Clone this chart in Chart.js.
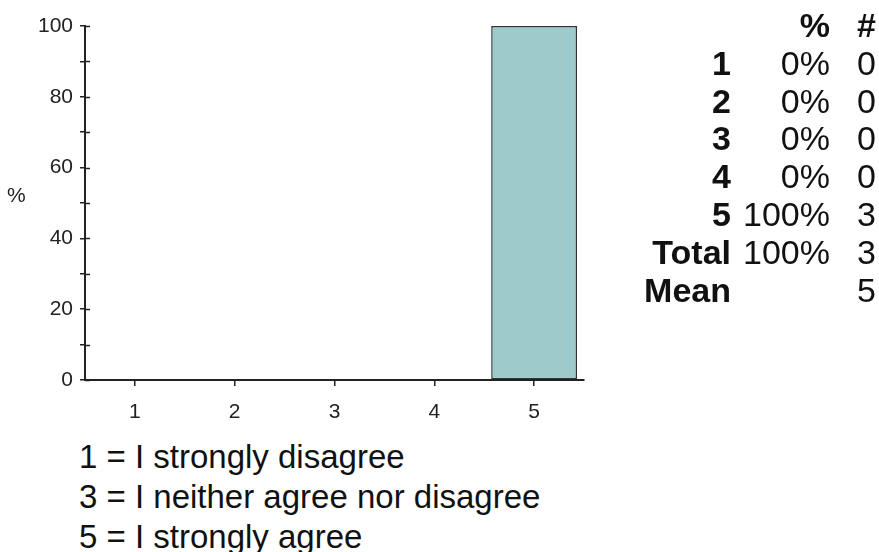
<!DOCTYPE html>
<html>
<head>
<meta charset="utf-8">
<script src="https://cdn.jsdelivr.net/npm/chart.js@4/dist/chart.umd.min.js"></script>
<style>
  html, body { margin: 0; padding: 0; background: #fff; }
  body { width: 879px; height: 552px; position: relative; overflow: hidden; font-family: 'Liberation Sans', Arial, sans-serif; color: #111; }
  #wrap { position: absolute; left: 0; top: 0; width: 600px; height: 436px; }
  #ytitle { position: absolute; left: 7px; top: 183px; font: 21px 'Liberation Sans', Arial, sans-serif; color: #222; }
  #stats { position: absolute; top: 7px; left: 560px; border-collapse: collapse; table-layout: fixed; font-size: 34px; line-height: 37.8px; }
  #stats td { padding: 0; text-align: right; white-space: nowrap; }
  #stats td.lbl { font-weight: bold; }
  #notes { position: absolute; left: 79px; top: 437px; font-size: 33px; line-height: 40px; }
</style>
</head>
<body>
<div id="wrap"><canvas id="chart"></canvas></div>
<div id="ytitle">%</div>
<table id="stats"><colgroup><col style="width:171px"><col style="width:99px"><col style="width:46px"></colgroup><tbody></tbody></table>
<div id="notes"></div>
<script>
// survey answer distribution
const categories = ['1', '2', '3', '4', '5'];
const percentValues = [0, 0, 0, 0, 100];
const counts = [0, 0, 0, 0, 3];
const totalPercent = 100;
const totalCount = 3;
const meanValue = 5;
const scaleNotes = ['1 = I strongly disagree', '3 = I neither agree nor disagree', '5 = I strongly agree'];

const AXIS = '#222';
const TICK_TEXT = '#222';
const TICK_FONT = { family: "'Liberation Sans', Arial, sans-serif", size: 21 };

// stats table on the right
const tbody = document.querySelector('#stats tbody');
function addRow(a, b, c, boldAll) {
  const tr = document.createElement('tr');
  [a, b, c].forEach((t, i) => {
    const td = document.createElement('td');
    td.textContent = t;
    if (i === 0 || boldAll) td.className = 'lbl';
    tr.appendChild(td);
  });
  tbody.appendChild(tr);
}
addRow('', '%', '#', true);
categories.forEach((c, i) => addRow(c, percentValues[i] + '%', String(counts[i])));
addRow('Total', totalPercent + '%', String(totalCount));
addRow('Mean', '', String(meanValue));

document.getElementById('notes').innerHTML = scaleNotes.map(n => `<div>${n}</div>`).join('');

// short marks on the inner side of the y axis
const innerTicks = {
  id: 'innerTicks',
  afterDatasetsDraw(chart) {
    const { ctx, scales: { y }, chartArea } = chart;
    ctx.save();
    ctx.strokeStyle = AXIS;
    ctx.lineWidth = 1.5;
    y.ticks.forEach(t => {
      const py = Math.round(y.getPixelForValue(t.value)) + 0.5;
      ctx.beginPath();
      ctx.moveTo(chartArea.left, py);
      ctx.lineTo(chartArea.left + 5, py);
      ctx.stroke();
    });
    ctx.restore();
  },
};

new Chart(document.getElementById('chart'), {
  type: 'bar',
  data: {
    labels: categories,
    datasets: [{
      data: percentValues,
      backgroundColor: '#9dcbcc',
      borderColor: '#333',
      borderWidth: 1.5,
      borderSkipped: false,
      barPercentage: 0.86,
      categoryPercentage: 1,
    }],
  },
  options: {
    responsive: true, maintainAspectRatio: false, animation: false,
    layout: { padding: { top: 26, right: 16, left: 0, bottom: 0 } },
    plugins: { legend: { display: false }, tooltip: { enabled: false } },
    scales: {
      x: {
        offset: true,
        grid: { offset: false, drawOnChartArea: false, drawTicks: true, tickLength: 6, color: AXIS, lineWidth: 1.5 },
        border: { display: true, color: AXIS, width: 2 },
        ticks: { color: TICK_TEXT, font: TICK_FONT, padding: 14 },
        afterFit: s => { s.height = 56; },
      },
      y: {
        min: 0, max: 100,
        grid: { drawOnChartArea: false, drawTicks: true, tickLength: 5, color: AXIS, lineWidth: 1.5 },
        border: { display: true, color: AXIS, width: 2 },
        ticks: { stepSize: 10, color: TICK_TEXT, font: TICK_FONT, padding: 7,
          callback: v => (v % 20 === 0 ? v : '') },
        afterFit: s => { s.width = 85; },
      },
    },
  },
  plugins: [innerTicks],
});
</script>
</body>
</html>
